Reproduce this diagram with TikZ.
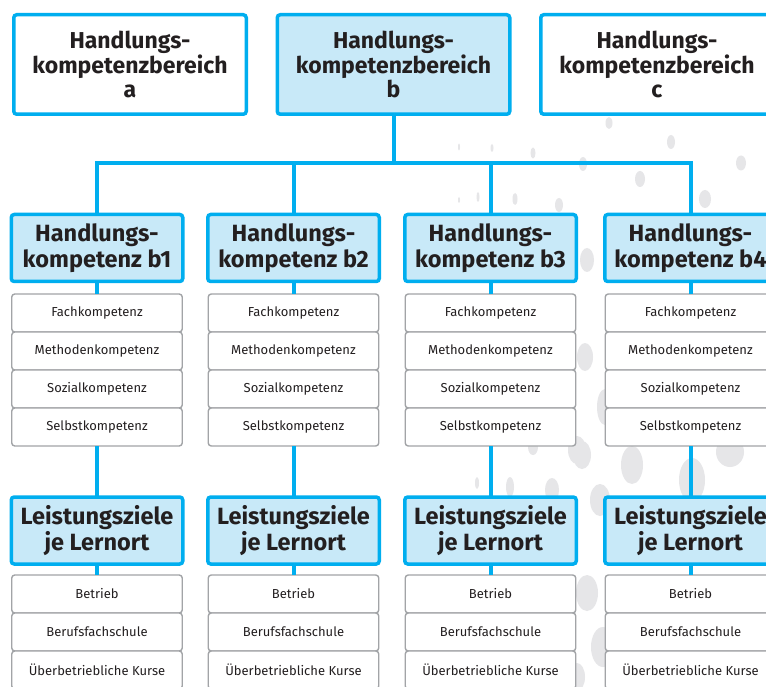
\documentclass[tikz,border=0pt]{standalone}
\usepackage{fontspec}
\setmainfont{Fira Sans}
\usepackage{tikz}
\usetikzlibrary{positioning}
\definecolor{kblue}{HTML}{00AEEF}
\definecolor{klight}{HTML}{C8E9F8}
\definecolor{kgrey}{HTML}{A2A4A7}
\definecolor{kdot}{HTML}{E6E6E8}
\definecolor{ktext}{HTML}{231F20}
\tikzset{
	bereich/.style={draw=kblue, line width=3.5pt, fill=white, rounded corners=3pt,
		minimum width=232.5pt, minimum height=99.5pt, inner sep=0pt, outer sep=0pt,
		align=center, text=ktext, font=\bfseries\fontsize{23}{24.5}\selectfont},
	kompetenz/.style={draw=kblue, line width=3.5pt, fill=klight, rounded corners=3pt,
		minimum width=171.5pt, minimum height=67pt, inner sep=0pt, outer sep=0pt,
		align=center, text=ktext, font=\bfseries\fontsize{23.5}{26}\selectfont,
		execute at begin node={\rule{0pt}{30pt}}},
	teil/.style={draw=kgrey, line width=1.4pt, fill=white, rounded corners=3pt,
		minimum width=170.5pt, minimum height=38pt, inner sep=0pt, outer sep=0pt,
		anchor=north, text=ktext, font=\fontsize{13}{14}\selectfont},
	link/.style={draw=kblue, line width=4pt},
	punkt/.style={fill=kdot},
}
\begin{document}
\begin{tikzpicture}[x=1pt, y=-1pt]
	\useasboundingbox (0,0) rectangle (766,687);
	\fill[white] (0,0) rectangle (766,687);
	% dots in the background
	\foreach \px/\py/\rx/\ry in {609/123/3.5/6, 671/142/4/7, 741/163/5/7.5,
		583/164/4/7, 640/179/5/8, 705/199/6/9, 559/205/4/7, 533/153/2.5/5.5,
		492/148/1.5/4, 515/199/2.5/6, 478/197/1.5/5, 459/147/1/3.5, 459/200/1/3,
		587/260/7/12, 585/357/8/14, 605/407/8/18, 577/450/9/14, 582/455/9/14,
		632/465/11/19, 692/480/13/22, 730/452/14/15, 552/490/7/12, 510/487/4/10,
		533/447/5/8, 477/483/2/6, 600/500/10/16, 587/593/11/18, 603/647/12/20,
		577/677/8/14}
		\fill[punkt] (\px,\py) ellipse[x radius=\rx, y radius=\ry];
%
	\node[bereich] (ha) at (130,64.5) {Handlungs-\\kompetenzbereich\\a};
	\node[bereich, fill=klight] (hb) at (393.5,64.5) {Handlungs-\\kompetenzbereich\\b};
	\node[bereich] (hc) at (657,64.5) {Handlungs-\\kompetenzbereich\\c};
	\coordinate (bar) at (393.5,163);
%
	\foreach \i/\x in {1/97, 2/293.5, 3/490.5, 4/690.5}{
		\node[kompetenz] (hk\i) at (\x,248) {Handlungs-\\kompetenz b\i};
		\node[teil] (fk\i) at (\x,294) {Fachkompetenz};
		\node[teil] (mk\i) at (fk\i.south) {Methodenkompetenz};
		\node[teil] (zk\i) at (mk\i.south) {Sozialkompetenz};
		\node[teil] (sk\i) at (zk\i.south) {Selbstkompetenz};
		\node[kompetenz] (lz\i) at (\x,530.5) {Leistungsziele\\je Lernort};
		\node[teil] (be\i) at (\x,575) {Betrieb};
		\node[teil] (bf\i) at (be\i.south) {Berufsfachschule};
		\node[teil] (uk\i) at (bf\i.south) {Überbetriebliche Kurse};
		\draw[link] (hk\i.south) -- (fk\i.north);
		\draw[link] (sk\i.south) -- (lz\i.north);
		\draw[link] (lz\i.south) -- (be\i.north);
	}
%
	\draw[link] (hb.south) -- (bar);
	\draw[link] (hk1.north) |- (bar) -| (hk4.north);
	\draw[link] (hk2.north) -- (hk2.north |- bar);
	\draw[link] (hk3.north) -- (hk3.north |- bar);
\end{tikzpicture}
\end{document}
